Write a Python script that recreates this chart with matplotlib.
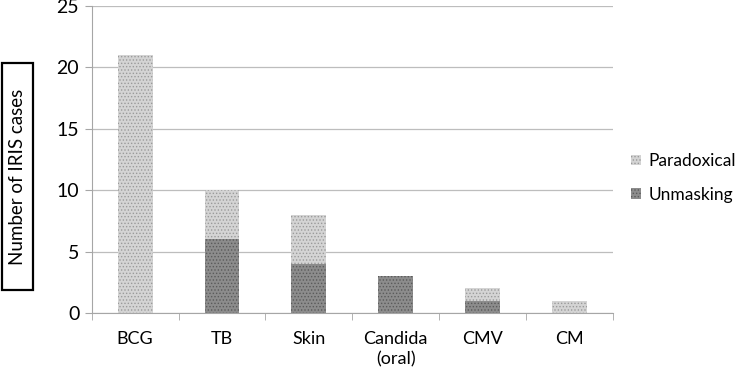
import numpy as np
import matplotlib
matplotlib.use("Agg")
import matplotlib.pyplot as plt
import matplotlib.patches as patches

# data
categories = ["BCG", "TB", "Skin", "Candida\n(oral)", "CMV", "CM"]
unmasking = [0, 6, 4, 3, 1, 0]
paradoxical = [21, 4, 4, 0, 1, 1]

plt.rcParams['font.family'] = ['Lato', 'DejaVu Sans']
plt.rcParams['hatch.linewidth'] = 0.6

fig = plt.figure(figsize=(7.4, 3.69), dpi=100)
ax = fig.add_axes([0.124, 0.152, 0.704, 0.832])

x = np.arange(len(categories))
w = 0.4
b1 = ax.bar(x, unmasking, w, color='#8c8c8c', edgecolor='#5a5a5a',
            hatch='.....', linewidth=0, label='Unmasking', zorder=3)
b2 = ax.bar(x, paradoxical, w, bottom=unmasking, color='#d4d4d4', edgecolor='#9a9a9a',
            hatch='.....', linewidth=0, label='Paradoxical', zorder=3)

ax.set_xlim(-0.5, len(categories) - 0.5)
ax.set_ylim(0, 25)
ax.set_yticks(range(0, 26, 5))
ax.grid(axis='y', color='#bdbdbd', linewidth=0.9, zorder=0)

ax.set_xticks(x)
ax.set_xticklabels(categories, fontsize=13, linespacing=1.3)
ax.tick_params(axis='x', which='major', length=0, pad=13)
ax.set_xticks(np.arange(-0.5, len(categories), 1.0), minor=True)
ax.tick_params(axis='x', which='minor', length=5, color='#a6a6a6')
ax.tick_params(axis='y', length=5, color='#a6a6a6', labelsize=14, pad=4)

for s in ['top', 'right']:
    ax.spines[s].set_visible(False)
ax.spines['left'].set_color('#a6a6a6')
ax.spines['bottom'].set_color('#a6a6a6')

ax.legend(handles=[b2, b1], loc='center left', bbox_to_anchor=(1.036, 0.44),
          frameon=False, fontsize=12.5, handlelength=0.55, handleheight=0.55,
          handletextpad=0.45, labelspacing=1.0, borderaxespad=0, borderpad=0)

# boxed y label
fig.add_artist(patches.Rectangle((2 / 740, 79 / 369), 31 / 740, 227 / 369,
                                 transform=fig.transFigure, facecolor='white',
                                 edgecolor='black', linewidth=1.6))
fig.text(17.5 / 740, 1 - 176.5 / 369, "Number of IRIS cases", rotation=90,
         fontsize=13.5, ha='center', va='center')

fig.savefig("out.png", dpi=100)
